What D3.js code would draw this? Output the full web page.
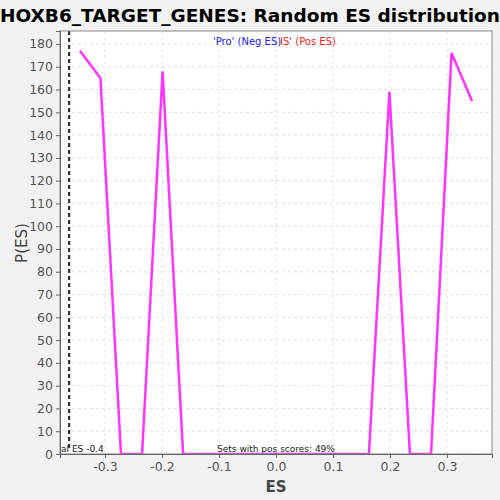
<!DOCTYPE html>
<html>
<head>
<meta charset="utf-8">
<script src="https://cdn.jsdelivr.net/npm/d3@7"></script>
<style>
  body { margin: 0; background: #f2f2f2; }
  svg { display: block; }
</style>
</head>
<body>
<svg id="chart" width="500" height="500"></svg>
<script>
// values
var esValues = [-0.344, -0.308, -0.272, -0.235, -0.199, -0.163, -0.127, -0.090, -0.054, -0.018,
                 0.018, 0.054, 0.090, 0.127, 0.163, 0.199, 0.235, 0.272, 0.308, 0.344];
var pValues  = [177, 165, 0, 0, 168, 0, 0, 0, 0, 0,
                0, 0, 0, 0, 0, 159, 0, 0, 176, 155];
var xTicks = [-0.3, -0.2, -0.1, 0.0, 0.1, 0.2, 0.3];
var yTicks = d3.range(0, 181, 10);
var actualES = -0.363;

var W = 500, H = 500;
var margin = {left: 60, right: 8, top: 31, bottom: 46};

var svg = d3.select("#chart");

var x = d3.scaleLinear().domain([-0.379, 0.379]).range([margin.left, W - margin.right]);
var y = d3.scaleLinear().domain([0, 185.7]).range([H - margin.bottom, margin.top]);

svg.append("rect").attr("width", W).attr("height", H).attr("fill", "#f2f2f2");

svg.append("text")
  .attr("x", 250).attr("y", 22)
  .attr("text-anchor", "middle")
  .style("font-family", "DejaVu Sans").style("font-weight", "bold").style("font-size", "18.5px")
  .text("HOXB6_TARGET_GENES: Random ES distribution");

// plot background
svg.append("rect")
  .attr("x", margin.left).attr("y", margin.top)
  .attr("width", W - margin.left - margin.right)
  .attr("height", H - margin.top - margin.bottom)
  .attr("fill", "white");

svg.append("defs").append("clipPath").attr("id", "clip")
  .append("rect")
  .attr("x", margin.left).attr("y", margin.top)
  .attr("width", W - margin.left - margin.right)
  .attr("height", H - margin.top - margin.bottom);

// grid
var grid = svg.append("g");
grid.selectAll("line.gy").data(yTicks).enter().append("line")
  .attr("x1", margin.left).attr("x2", W - margin.right)
  .attr("y1", function(d){ return y(d); }).attr("y2", function(d){ return y(d); })
  .attr("stroke", "#e2e2e2").attr("stroke-dasharray", "3,3");
grid.selectAll("line.gx").data(xTicks).enter().append("line")
  .attr("y1", margin.top).attr("y2", H - margin.bottom)
  .attr("x1", function(d){ return x(d); }).attr("x2", function(d){ return x(d); })
  .attr("stroke", "#e2e2e2").attr("stroke-dasharray", "3,3");

var plot = svg.append("g").attr("clip-path", "url(#clip)");

// legend texts
plot.append("text")
  .attr("x", 280).attr("y", 45)
  .style("font-family", "DejaVu Sans").style("font-size", "10px")
  .attr("fill", "#ff2020")
  .text("IS' (Pos ES)");
plot.append("text")
  .attr("x", 213).attr("y", 45)
  .style("font-family", "DejaVu Sans").style("font-size", "10px")
  .attr("fill", "#2020ff")
  .text("'Pro' (Neg ES)");

// actual ES marker
plot.append("line")
  .attr("x1", x(actualES)).attr("x2", x(actualES))
  .attr("y1", margin.top).attr("y2", y(2))
  .attr("stroke", "#333").attr("stroke-width", 2.2).attr("stroke-dasharray", "4,3");

plot.append("text")
  .attr("x", 61).attr("y", 452)
  .style("font-family", "DejaVu Sans").style("font-size", "9px")
  .attr("fill", "#222")
  .text("al ES -0.4");

plot.append("text")
  .attr("x", 276).attr("y", 452)
  .attr("text-anchor", "middle")
  .style("font-family", "DejaVu Sans").style("font-size", "9px")
  .attr("fill", "#222")
  .text("Sets with pos scores: 49%");

// distribution line
var line = d3.line()
  .x(function(d, i){ return x(esValues[i]); })
  .y(function(d){ return y(d); });
plot.append("path")
  .datum(pValues)
  .attr("d", line)
  .attr("fill", "none")
  .attr("stroke", "#ff33ff")
  .attr("stroke-width", 2.5)
  .attr("stroke-linejoin", "miter");

// border
svg.append("rect")
  .attr("x", margin.left).attr("y", margin.top)
  .attr("width", W - margin.left - margin.right)
  .attr("height", H - margin.top - margin.bottom)
  .attr("fill", "none").attr("stroke", "#888");

// axes
var yAxis = d3.axisLeft(y).tickValues(yTicks).tickSize(4).tickPadding(3);
var gy = svg.append("g").attr("transform", "translate(" + margin.left + ",0)").call(yAxis);
var xAxis = d3.axisBottom(x).tickValues(xTicks).tickSize(4).tickPadding(4).tickFormat(d3.format(".1f"));
var gx = svg.append("g").attr("transform", "translate(0," + (H - margin.bottom) + ")").call(xAxis);

[gx, gy].forEach(function(g){
  g.select(".domain").attr("stroke", "#666");
  g.selectAll(".tick line").attr("stroke", "#666");
  g.selectAll(".tick text")
    .style("font-family", "DejaVu Sans").style("font-size", "12.5px")
    .attr("fill", "#555");
});
gx.selectAll(".tick text").text(function(d){ return d3.format(".1f")(d).replace("−", "-"); });

svg.append("text")
  .attr("x", 276).attr("y", 492)
  .attr("text-anchor", "middle")
  .style("font-family", "DejaVu Sans").style("font-weight", "bold").style("font-size", "15px")
  .attr("fill", "#444")
  .text("ES");

svg.append("text")
  .attr("transform", "translate(27,243) rotate(-90)")
  .attr("text-anchor", "middle")
  .style("font-family", "DejaVu Sans").style("font-size", "15px")
  .attr("fill", "#444")
  .text("P(ES)");
</script>
</body>
</html>
